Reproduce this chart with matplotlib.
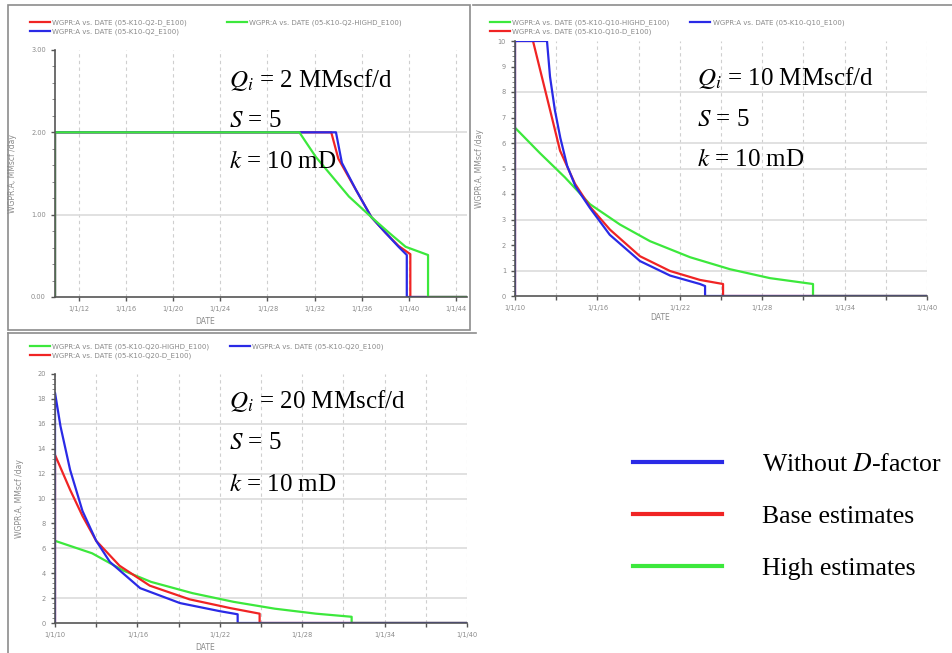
import matplotlib
matplotlib.use('Agg')
import matplotlib.pyplot as plt
from matplotlib.lines import Line2D
from matplotlib.patches import Rectangle
from matplotlib.ticker import FixedLocator, MultipleLocator

plt.rcParams['mathtext.fontset'] = 'stix'

W, H = 953, 653

### data (years as decimals) ###
# Qi = 2 MMscf/d
q2_blue_x = [2010, 2010, 2033.8, 2034.3, 2035.5, 2036.8, 2038.0, 2039.1, 2039.8, 2039.8, 2044.9]
q2_blue_y = [0, 2.0, 2.0, 1.63, 1.30, 0.97, 0.78, 0.61, 0.51, 0, 0]
q2_red_x = [2010, 2010, 2033.4, 2034.0, 2035.3, 2036.8, 2038.0, 2039.1, 2040.1, 2040.1, 2044.9]
q2_red_y = [0, 2.0, 2.0, 1.68, 1.35, 0.97, 0.78, 0.62, 0.52, 0, 0]
q2_green_x = [2010, 2010, 2030.7, 2032.1, 2033.5, 2034.9, 2036.8, 2038.3, 2039.7, 2041.6, 2041.6, 2044.9]
q2_green_y = [0, 2.0, 2.0, 1.70, 1.46, 1.22, 0.97, 0.78, 0.61, 0.51, 0, 0]

# Qi = 10 MMscf/d
q10_blue_x = [2010, 2010, 2012.33, 2012.55, 2012.9, 2013.3, 2013.8, 2014.4, 2015.46, 2016.9,
              2019.1, 2021.3, 2023.47, 2023.84, 2023.84, 2040]
q10_blue_y = [0, 10, 10, 8.6, 7.3, 6.2, 5.1, 4.3, 3.45, 2.4, 1.37, 0.8, 0.47, 0.39, 0, 0]
q10_red_x = [2010, 2010, 2011.31, 2012.55, 2013.28, 2014.37, 2015.46, 2016.92, 2019.1,
             2021.29, 2023.47, 2025.15, 2025.15, 2040]
q10_red_y = [0, 10, 10, 7.3, 5.7, 4.4, 3.5, 2.6, 1.56, 0.98, 0.63, 0.47, 0, 0]
q10_green_x = [2010, 2011.82, 2013.64, 2015.46, 2017.65, 2019.83, 2022.75, 2025.66, 2028.57,
               2031.7, 2031.7, 2040]
q10_green_y = [6.6, 5.6, 4.65, 3.6, 2.8, 2.15, 1.52, 1.05, 0.7, 0.47, 0, 0]

# Qi = 20 MMscf/d
q20_blue_x = [2010, 2010, 2010.4, 2011.1, 2012.0, 2013.0, 2014.0, 2016.2, 2019.1, 2022.0,
              2023.3, 2023.3, 2040]
q20_blue_y = [0, 18.5, 15.8, 12.3, 9.0, 6.6, 4.9, 2.8, 1.6, 0.95, 0.7, 0, 0]
q20_red_x = [2010, 2010, 2011.1, 2012.0, 2013.0, 2014.7, 2016.9, 2019.8, 2022.75, 2024.9,
             2024.9, 2040]
q20_red_y = [0, 13.5, 10.7, 8.6, 6.6, 4.6, 3.0, 1.9, 1.2, 0.75, 0, 0]
q20_green_x = [2010, 2012.7, 2015.0, 2017.0, 2020.0, 2023.0, 2026.0, 2029.0, 2031.6, 2031.6, 2040]
q20_green_y = [6.6, 5.6, 4.2, 3.3, 2.4, 1.7, 1.15, 0.75, 0.5, 0, 0]

q2_ticks = [2012, 2016, 2020, 2024, 2028, 2032, 2036, 2040, 2044]
q2_labels = ['1/1/12', '1/1/16', '1/1/20', '1/1/24', '1/1/28', '1/1/32', '1/1/36', '1/1/40', '1/1/44']
q_ticks = [2010, 2013, 2016, 2019, 2022, 2025, 2028, 2031, 2034, 2037, 2040]
q_labels = ['1/1/10', '', '1/1/16', '', '1/1/22', '', '1/1/28', '', '1/1/34', '', '1/1/40']

BLUE = '#2a2ae6'
RED = '#f02424'
GREEN = '#3ce83c'
GRAY = '#8a8a8a'


def fx(x):
    return x / W


def fy(y):
    return 1 - y / H


def px_axes(fig, l, t, r, b):
    return fig.add_axes([fx(l), fy(b), fx(r - l), (b - t) / H])


def style_axes(ax, xlim, ylim, xticks, xlabels, ymajor, yminor, yfmt, hgrid):
    ax.set_xlim(*xlim)
    ax.set_ylim(*ylim)
    for s in ['top', 'right']:
        ax.spines[s].set_visible(False)
    for s in ['left', 'bottom']:
        ax.spines[s].set_color('#555555')
        ax.spines[s].set_linewidth(1.2)
    ax.xaxis.set_major_locator(FixedLocator(xticks))
    ax.set_xticklabels(xlabels)
    ax.yaxis.set_major_locator(MultipleLocator(ymajor))
    ax.yaxis.set_minor_locator(MultipleLocator(yminor))
    ax.yaxis.set_major_formatter(plt.FuncFormatter(lambda v, p: yfmt.format(v)))
    ax.tick_params(labelsize=4.8, colors='#555555', labelcolor=GRAY, length=3, width=1)
    ax.tick_params(which='minor', length=2, colors='#777777')
    for x in xticks:
        ax.axvline(x, color='#cfcfcf', lw=0.8, ls=(0, (3, 3)), zorder=0)
    for y in hgrid:
        ax.axhline(y, color='#dcdcdc', lw=1.2, zorder=0)


def panel_legend(fig, handles, labels, x, y, colsp):
    fig.legend(handles, labels, loc='upper left', bbox_to_anchor=(fx(x), fy(y)),
               ncol=2, fontsize=5, frameon=False, handlelength=2.9, handletextpad=0.3,
               columnspacing=colsp, labelspacing=0.35, borderpad=0, borderaxespad=0,
               labelcolor=GRAY)


def notes(fig, x, ys, q):
    txt = ['$Q_i$ = %d MMscf/d' % q, '$S$ = 5', '$k$ = 10 mD']
    for t, y in zip(txt, ys):
        fig.text(fx(x), fy(y), t, fontsize=18, family='Liberation Serif', va='center', ha='left')


fig = plt.figure(figsize=(W / 100, H / 100), dpi=100)

# panel frames
fig.add_artist(Rectangle((fx(8), fy(330)), fx(462), 325 / H, transform=fig.transFigure,
                         fill=False, edgecolor='#8c8c8c', lw=1.2))
fig.add_artist(Line2D([fx(473), fx(953)], [fy(5), fy(5)], color='#8c8c8c', lw=1.2))
fig.add_artist(Line2D([fx(8), fx(476)], [fy(333), fy(333)], color='#8c8c8c', lw=1.2))
fig.add_artist(Line2D([fx(8), fx(8)], [fy(333), fy(653)], color='#8c8c8c', lw=1.2))

# Qi = 2
ax1 = px_axes(fig, 55, 50, 467, 297)
style_axes(ax1, (2010, 2044.9), (0, 3), q2_ticks, q2_labels, 1, 0.2, '{:.2f}', [1, 2])
r1, = ax1.plot(q2_red_x, q2_red_y, color=RED, lw=1.6)
b1, = ax1.plot(q2_blue_x, q2_blue_y, color=BLUE, lw=1.6)
g1, = ax1.plot(q2_green_x, q2_green_y, color=GREEN, lw=1.6)
ax1.set_ylabel('WGPR:A, MMscf /day', fontsize=5.5, color=GRAY, labelpad=10)
fig.text(fx(205), fy(322), 'DATE', fontsize=5.5, color=GRAY, ha='center', va='center')
panel_legend(fig, [r1, b1, g1],
             ['WGPR:A vs. DATE (05-K10-Q2-D_E100)', 'WGPR:A vs. DATE (05-K10-Q2_E100)',
              'WGPR:A vs. DATE (05-K10-Q2-HIGHD_E100)'], 30, 19, 5.8)
notes(fig, 229, [80, 121, 162], 2)

# Qi = 10
ax2 = px_axes(fig, 515, 41, 927, 296)
style_axes(ax2, (2010, 2040), (0, 10), q_ticks, q_labels, 1, 0.2, '{:.0f}', [1, 3, 5, 6, 8])
g2, = ax2.plot(q10_green_x, q10_green_y, color=GREEN, lw=1.6)
r2, = ax2.plot(q10_red_x, q10_red_y, color=RED, lw=1.6)
b2, = ax2.plot(q10_blue_x, q10_blue_y, color=BLUE, lw=1.6)
ax2.set_ylabel('WGPR:A, MMscf /day', fontsize=5.5, color=GRAY, labelpad=10)
fig.text(fx(660), fy(318), 'DATE', fontsize=5.5, color=GRAY, ha='center', va='center')
panel_legend(fig, [g2, r2, b2],
             ['WGPR:A vs. DATE (05-K10-Q10-HIGHD_E100)', 'WGPR:A vs. DATE (05-K10-Q10-D_E100)',
              'WGPR:A vs. DATE (05-K10-Q10_E100)'], 490, 19, 3.0)
notes(fig, 697, [78, 120, 160], 10)

# Qi = 20
ax3 = px_axes(fig, 55, 374, 467, 623)
style_axes(ax3, (2010, 2040), (0, 20), q_ticks, q_labels, 2, 0.4, '{:.0f}', [2, 6, 10, 12, 16])
g3, = ax3.plot(q20_green_x, q20_green_y, color=GREEN, lw=1.6)
r3, = ax3.plot(q20_red_x, q20_red_y, color=RED, lw=1.6)
b3, = ax3.plot(q20_blue_x, q20_blue_y, color=BLUE, lw=1.6)
ax3.set_ylabel('WGPR:A, MMscf /day', fontsize=5.5, color=GRAY, labelpad=10)
fig.text(fx(205), fy(647), 'DATE', fontsize=5.5, color=GRAY, ha='center', va='center')
panel_legend(fig, [g3, r3, b3],
             ['WGPR:A vs. DATE (05-K10-Q20-HIGHD_E100)', 'WGPR:A vs. DATE (05-K10-Q20-D_E100)',
              'WGPR:A vs. DATE (05-K10-Q20_E100)'], 30, 343, 3.0)
notes(fig, 229, [401, 443, 485], 20)

# shared legend
big = [Line2D([], [], color=BLUE, lw=3), Line2D([], [], color=RED, lw=3),
       Line2D([], [], color=GREEN, lw=3)]
fig.legend(big, ['Without $D$-factor', 'Base estimates', 'High estimates'],
           loc='upper left', bbox_to_anchor=(fx(633), fy(453)), frameon=False,
           prop={'family': 'Liberation Serif', 'size': 18.5}, handlelength=3.46,
           handletextpad=1.56, labelspacing=1.12, borderpad=0, borderaxespad=0)

fig.savefig('out.png', dpi=100)
